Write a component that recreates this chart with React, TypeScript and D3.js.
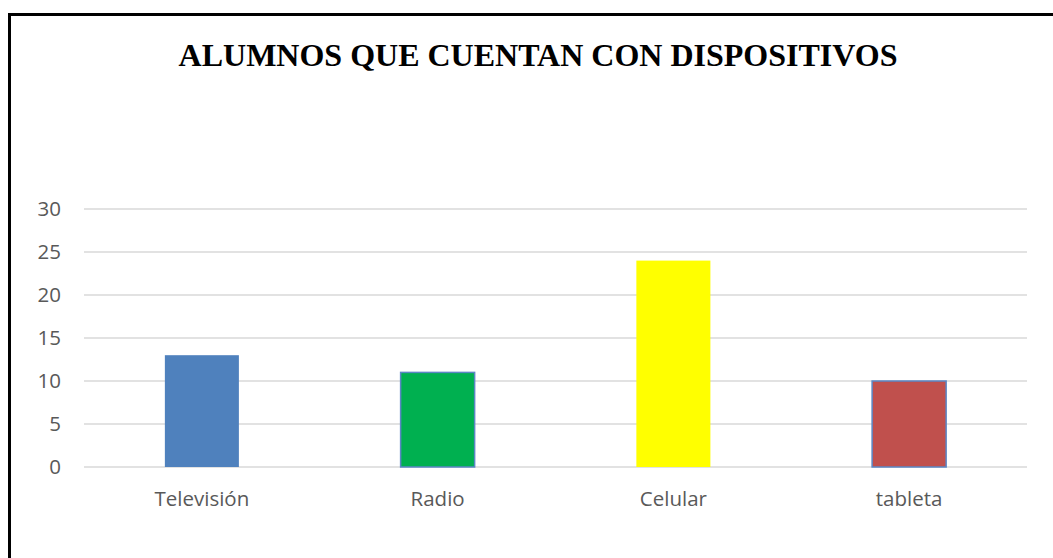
import React from "react";
import * as d3 from "d3";

const categories = ["Televisión", "Radio", "Celular", "tableta"];
const values = [13, 11, 24, 10];
const colors = ["#4f81bd", "#00b050", "#ffff00", "#c0504d"];
const strokes = ["none", "#5b87c5", "none", "#5b87c5"];
const yTicks = [0, 5, 10, 15, 20, 25, 30];
const title = "ALUMNOS QUE CUENTAN CON DISPOSITIVOS";

export default function App() {
  const W = 1053, H = 558;
  const left = 84, right = 1027, top = 209, bottom = 467;
  const x = d3.scaleBand().domain(categories).range([left, right]).paddingInner(0.686).paddingOuter(0.343);
  const y = d3.scaleLinear().domain([0, 30]).range([bottom, top]);
  return (
    <svg width={W} height={H} style={{ position: "absolute", left: 0, top: 0 }}>
      <rect x={0} y={0} width={W} height={H} fill="#fff" />
      <rect x={9.5} y={14.5} width={W + 10} height={H + 10} fill="none" stroke="#000" strokeWidth={3} />
      <text x={538} y={66} textAnchor="middle" fontFamily="'Liberation Serif', 'Times New Roman', serif" fontWeight="bold" fontSize={32} fill="#000">{title}</text>
      {yTicks.map(t => (
        <g key={t}>
          <line x1={left} x2={right} y1={y(t)} y2={y(t)} stroke="#d9d9d9" strokeWidth={1.5} />
          <text x={61} y={y(t) + 7} textAnchor="end" fontFamily="'Open Sans', 'Liberation Sans', sans-serif" fontSize={20.5} fill="#595959">{t}</text>
        </g>
      ))}
      {categories.map((c, i) => (
        <g key={c}>
          <rect x={x(c)!} y={y(values[i])} width={x.bandwidth()} height={y(0) - y(values[i])} fill={colors[i]} stroke={strokes[i]} strokeWidth={1.5} />
          <text x={x(c)! + x.bandwidth() / 2} y={506} textAnchor="middle" fontFamily="'Open Sans', 'Liberation Sans', sans-serif" fontSize={20.5} fill="#595959">{c}</text>
        </g>
      ))}
    </svg>
  );
}
